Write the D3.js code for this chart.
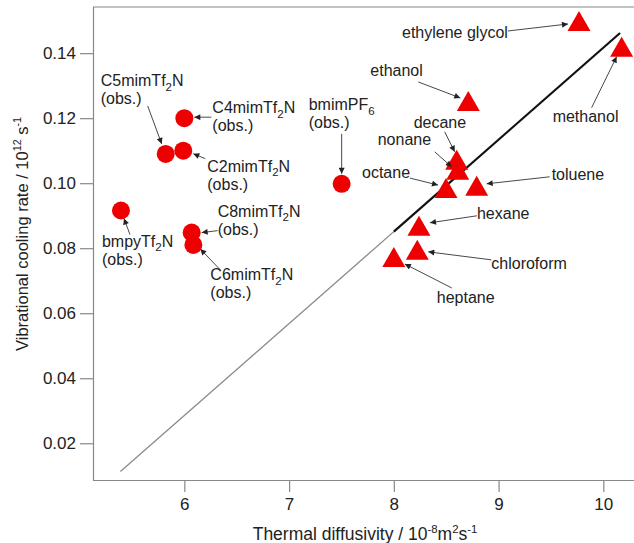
<!DOCTYPE html>
<html>
<head>
<meta charset="utf-8">
<script src="https://cdn.jsdelivr.net/npm/d3@7"></script>
<style>
  body { margin: 0; background: #fff; }
  text { font-family: "Liberation Sans", Arial, Helvetica, sans-serif; fill: #222; }
</style>
</head>
<body>
<svg id="chart" width="634" height="543"></svg>
<script>
// molecular liquids (triangles)
const liquidNames = ["ethylene glycol", "methanol", "ethanol", "decane", "nonane", "octane", "toluene", "hexane", "chloroform", "heptane"];
const liquidX = [9.768, 10.175, 8.711, 8.60, 8.61, 8.498, 8.791, 8.24, 8.224, 8.0];
const liquidY = [0.1499, 0.142, 0.1253, 0.1072, 0.1041, 0.0985, 0.0992, 0.0869, 0.0795, 0.0773];

// ionic liquids (circles)
const ionicNames = ["C4mimTf_{2}N", "C5mimTf_{2}N", "C2mimTf_{2}N", "bmimPF_{6}", "C8mimTf_{2}N", "C6mimTf_{2}N", "bmpyTf_{2}N"];
const ionicX = [6.0, 5.822, 5.99, 7.502, 6.07, 6.086, 5.395];
const ionicY = [0.120, 0.109, 0.110, 0.0998, 0.0848, 0.081, 0.0916];

// linear fit and its extrapolation
const fitLine = [[8.0, 0.0851], [10.16, 0.1462]];
const extrapLine = [[5.39, 0.0113], [8.0, 0.0851]];

const xTicks = [6, 7, 8, 9, 10];
const yTicks = [0.02, 0.04, 0.06, 0.08, 0.10, 0.12, 0.14];

// label placement, pixel offsets from the point: [labelDx, labelDy, tailDx, tailDy, headDx, headDy]
const liquidLabelOffsets = [
  [-177, 17, -71, 10, -11, 3],
  [-69, 75, -30, 61, -5, 10],
  [-98, -25, -50, -19, -8, -3],
  [-43, -32, -12, -28, -2, -8],
  [-80, -25, -23, -18, -6, -3],
  [-84, -10, -36, -10, -8, -3],
  [75, -6, 73, -9, 10, -2],
  [58, -7, 58, -10, 11, -3],
  [74, 19, 74, 10, 11, 2],
  [43, 46, 58, 31, 11, 7]
];
const ionicLabelOffsets = [
  [28, -5, 27, -1, 10, -1],
  [-65, -68, -18, -48, -4, -10],
  [24, 21, 22, 8, 10, 3],
  [-33, -74, 0, -50, 0, -10],
  [26, -16, 26, -2, 10, 0],
  [17, 35, 27, 25, 7, 4],
  [-19, 36, 9, 24, 3, 8]
];

const svg = d3.select("#chart");
const plotLeft = 93, plotRight = 634, plotTop = 7, plotBottom = 480;

const x = d3.scaleLinear().domain([5.128, 10.293]).range([plotLeft, plotRight]);
const y = d3.scaleLinear().domain([0.0087, 0.1542]).range([plotBottom, plotTop]);

// write a string with _{sub} and ^{sup} parts into a text element
function richText(sel, str, size) {
  const parts = str.split(/(_\{[^}]*\}|\^\{[^}]*\})/).filter(s => s.length);
  let shift = 0;
  parts.forEach(p => {
    let target = 0, fs = size, txt = p;
    if (p.startsWith("_{")) { target = size * 0.3; fs = size * 0.72; txt = p.slice(2, -1); }
    else if (p.startsWith("^{")) { target = -size * 0.4; fs = size * 0.65; txt = p.slice(2, -1); }
    sel.append("tspan")
      .attr("dy", target - shift)
      .style("font-size", fs + "px")
      .text(txt);
    shift = target;
  });
}

svg.append("defs").append("marker")
  .attr("id", "arrow")
  .attr("markerUnits", "userSpaceOnUse")
  .attr("viewBox", "0 0 10 10")
  .attr("refX", 10).attr("refY", 5)
  .attr("markerWidth", 8).attr("markerHeight", 6)
  .attr("orient", "auto")
  .append("path")
  .attr("d", "M0,0L10,5L0,10Z")
  .attr("fill", "#222");

// frame: top line, left and bottom axes
svg.append("line").attr("x1", plotLeft).attr("x2", plotRight).attr("y1", plotTop).attr("y2", plotTop)
  .attr("stroke", "#888").attr("stroke-width", 1.2);

const xAxis = svg.append("g")
  .attr("transform", `translate(0,${plotBottom})`)
  .call(d3.axisBottom(x).tickValues(xTicks).tickSize(12).tickPadding(6).tickFormat(d3.format("d")));
const yAxis = svg.append("g")
  .attr("transform", `translate(${plotLeft},0)`)
  .call(d3.axisLeft(y).tickValues(yTicks).tickSize(13).tickPadding(4).tickFormat(d3.format(".2f")));

[xAxis, yAxis].forEach(g => {
  g.select(".domain").attr("stroke", "#888").attr("stroke-width", 1.2);
  g.selectAll(".tick line").attr("stroke", "#888").attr("stroke-width", 1.2);
  g.selectAll(".tick text").attr("fill", "#222").style("font-size", "17px")
    .style("font-family", "'Liberation Sans', Arial, sans-serif");
});
xAxis.select(".domain").attr("d", `M${plotLeft},0.5H${plotRight}`);
yAxis.select(".domain").attr("d", `M0.5,${plotTop}V${plotBottom}`);

// axis titles
const yTitle = svg.append("text")
  .attr("transform", "translate(28,234) rotate(-90)")
  .attr("text-anchor", "middle")
  .style("font-size", "16.5px");
richText(yTitle, "Vibrational cooling rate / 10^{12} s^{-1}", 16.5);

const xTitle = svg.append("text")
  .attr("x", 365).attr("y", 540)
  .attr("text-anchor", "middle")
  .style("font-size", "17.5px");
richText(xTitle, "Thermal diffusivity / 10^{-8}m^{2}s^{-1}", 17.5);

// fit lines
const line = d3.line().x(d => x(d[0])).y(d => y(d[1]));
svg.append("path").datum(extrapLine).attr("d", line)
  .attr("fill", "none").attr("stroke", "#8a8a8a").attr("stroke-width", 1.3);
svg.append("path").datum(fitLine).attr("d", line)
  .attr("fill", "none").attr("stroke", "#111").attr("stroke-width", 2.2);

// markers
const red = "#ee0000";
const tri = 23, triH = 20;
const liquids = liquidNames.map((n, i) => ({ name: n, x: liquidX[i], y: liquidY[i], off: liquidLabelOffsets[i] }));
const ionics = ionicNames.map((n, i) => ({ name: n, x: ionicX[i], y: ionicY[i], off: ionicLabelOffsets[i] }));

svg.append("g").selectAll("circle")
  .data(ionics).enter().append("circle")
  .attr("cx", d => x(d.x)).attr("cy", d => y(d.y))
  .attr("r", 9).attr("fill", red);

svg.append("g").selectAll("path")
  .data(liquids).enter().append("path")
  .attr("transform", d => `translate(${x(d.x)},${y(d.y)})`)
  .attr("d", `M0,${-triH / 2}L${tri / 2},${triH / 2}L${-tri / 2},${triH / 2}Z`)
  .attr("fill", red);

// annotations
const labelSize = 16;
function annotate(d, twoLine) {
  const px = x(d.x), py = y(d.y), o = d.off;
  svg.append("line")
    .attr("x1", px + o[2]).attr("y1", py + o[3])
    .attr("x2", px + o[4]).attr("y2", py + o[5])
    .attr("stroke", "#333").attr("stroke-width", 0.9)
    .attr("marker-end", "url(#arrow)");
  const t = svg.append("text")
    .attr("x", px + o[0]).attr("y", py + o[1])
    .style("font-size", labelSize + "px");
  richText(t, d.name, labelSize);
  if (twoLine) {
    svg.append("text")
      .attr("x", px + o[0]).attr("y", py + o[1] + 18)
      .style("font-size", labelSize + "px")
      .text("(obs.)");
  }
}
liquids.forEach(d => annotate(d, false));
ionics.forEach(d => annotate(d, true));
</script>
</body>
</html>
